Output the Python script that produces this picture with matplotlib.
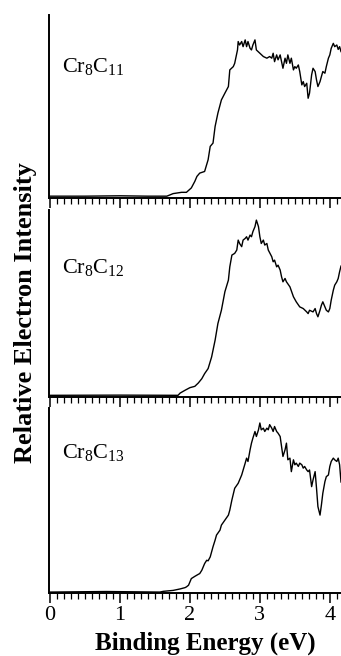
import matplotlib
matplotlib.use("Agg")
import matplotlib.pyplot as plt
from matplotlib.ticker import MultipleLocator

plt.rcParams['font.family'] = ['Liberation Serif', 'DejaVu Serif']
plt.rcParams['mathtext.fontset'] = 'custom'
plt.rcParams['mathtext.rm'] = 'Liberation Serif'
plt.rcParams['mathtext.it'] = 'Liberation Serif:italic'

# ---- data (binding energy eV, relative intensity) ----
labels = [r'$\mathrm{Cr}_8\mathrm{C}_{11}$', r'$\mathrm{Cr}_8\mathrm{C}_{12}$', r'$\mathrm{Cr}_8\mathrm{C}_{13}$']

e11 = [0, 0.5, 1.0, 1.4, 1.67, 1.76, 1.88, 1.95, 2.02, 2.07, 2.10, 2.14, 2.21, 2.26, 2.29, 2.33, 2.36, 2.40,
       2.45, 2.50, 2.55, 2.57, 2.62, 2.64, 2.68, 2.69, 2.71, 2.74, 2.76, 2.79, 2.81, 2.83, 2.86, 2.88, 2.90,
       2.93, 2.95, 3.00, 3.05, 3.10, 3.14, 3.17, 3.19, 3.21, 3.24, 3.26, 3.29, 3.31, 3.33, 3.36, 3.38, 3.40,
       3.43, 3.45, 3.48, 3.50, 3.52, 3.55, 3.57, 3.60, 3.62, 3.64, 3.67, 3.69, 3.71, 3.74, 3.76, 3.79, 3.81,
       3.83, 3.86, 3.88, 3.90, 3.93, 3.95, 3.98, 4.00, 4.02, 4.05, 4.07, 4.10, 4.12, 4.14, 4.16]
i11 = [0.01, 0.01, 0.012, 0.01, 0.01, 0.024, 0.031, 0.031, 0.055, 0.091, 0.118, 0.136, 0.145, 0.209, 0.282,
       0.30, 0.391, 0.464, 0.536, 0.573, 0.609, 0.70, 0.718, 0.736, 0.809, 0.855, 0.836, 0.855, 0.827, 0.864,
       0.827, 0.855, 0.818, 0.809, 0.836, 0.864, 0.809, 0.791, 0.773, 0.764, 0.773, 0.764, 0.791, 0.745, 0.782,
       0.755, 0.782, 0.745, 0.709, 0.764, 0.736, 0.782, 0.736, 0.764, 0.70, 0.718, 0.709, 0.727, 0.691, 0.618,
       0.636, 0.609, 0.627, 0.545, 0.573, 0.673, 0.709, 0.691, 0.645, 0.609, 0.636, 0.664, 0.691, 0.682, 0.718,
       0.764, 0.782, 0.818, 0.845, 0.827, 0.836, 0.812, 0.827, 0.80]

e12 = [0, 1.0, 1.83, 1.86, 1.93, 2.0, 2.07, 2.12, 2.17, 2.21, 2.26, 2.31, 2.36, 2.40, 2.45, 2.50, 2.55, 2.57,
       2.60, 2.64, 2.67, 2.69, 2.71, 2.74, 2.76, 2.79, 2.81, 2.83, 2.86, 2.88, 2.90, 2.93, 2.95, 2.98, 3.0,
       3.02, 3.05, 3.07, 3.10, 3.12, 3.17, 3.19, 3.21, 3.24, 3.26, 3.29, 3.31, 3.33, 3.36, 3.38, 3.43, 3.48,
       3.52, 3.57, 3.62, 3.67, 3.69, 3.71, 3.76, 3.79, 3.81, 3.83, 3.86, 3.88, 3.90, 3.93, 3.95, 3.98, 4.0,
       4.02, 4.05, 4.07, 4.10, 4.12, 4.14, 4.16]
i12 = [0.009, 0.01, 0.009, 0.021, 0.036, 0.05, 0.057, 0.075, 0.098, 0.125, 0.152, 0.214, 0.304, 0.393, 0.464,
       0.563, 0.625, 0.696, 0.759, 0.768, 0.786, 0.839, 0.821, 0.804, 0.839, 0.848, 0.857, 0.839, 0.866, 0.857,
       0.884, 0.911, 0.946, 0.911, 0.857, 0.821, 0.839, 0.8125, 0.821, 0.786, 0.75, 0.723, 0.732, 0.696, 0.705,
       0.679, 0.643, 0.616, 0.634, 0.616, 0.589, 0.536, 0.509, 0.482, 0.473, 0.455, 0.446, 0.464, 0.455, 0.473,
       0.446, 0.429, 0.464, 0.491, 0.509, 0.482, 0.464, 0.455, 0.473, 0.518, 0.571, 0.598, 0.616, 0.634, 0.67,
       0.70]

e13 = [0, 0.8, 1.57, 1.62, 1.76, 1.86, 1.93, 1.95, 1.98, 2.0, 2.02, 2.07, 2.12, 2.14, 2.17, 2.21, 2.24, 2.26,
       2.29, 2.33, 2.36, 2.38, 2.43, 2.45, 2.50, 2.55, 2.57, 2.60, 2.64, 2.69, 2.74, 2.79, 2.81, 2.83, 2.86,
       2.88, 2.90, 2.93, 2.95, 2.98, 3.0, 3.02, 3.05, 3.07, 3.10, 3.12, 3.14, 3.17, 3.19, 3.21, 3.24, 3.26,
       3.29, 3.31, 3.33, 3.36, 3.38, 3.40, 3.43, 3.45, 3.48, 3.50, 3.52, 3.55, 3.57, 3.60, 3.62, 3.64, 3.67,
       3.69, 3.71, 3.74, 3.76, 3.79, 3.81, 3.83, 3.86, 3.88, 3.90, 3.93, 3.95, 3.98, 4.0, 4.02, 4.05, 4.07,
       4.10, 4.12, 4.14, 4.16]
i13 = [0.005, 0.008, 0.005, 0.009, 0.014, 0.022, 0.029, 0.033, 0.042, 0.06, 0.078, 0.09, 0.101, 0.105, 0.123,
       0.159, 0.177, 0.174, 0.195, 0.25, 0.286, 0.313, 0.34, 0.367, 0.394, 0.421, 0.448, 0.503, 0.566, 0.593,
       0.638, 0.702, 0.729, 0.711, 0.774, 0.81, 0.837, 0.873, 0.846, 0.882, 0.919, 0.882, 0.891, 0.873, 0.891,
       0.882, 0.91, 0.891, 0.873, 0.9, 0.873, 0.864, 0.846, 0.792, 0.738, 0.774, 0.81, 0.72, 0.729, 0.656,
       0.72, 0.693, 0.702, 0.684, 0.702, 0.693, 0.675, 0.684, 0.665, 0.656, 0.665, 0.575, 0.611, 0.656, 0.566,
       0.467, 0.421, 0.476, 0.539, 0.602, 0.629, 0.638, 0.684, 0.711, 0.729, 0.72, 0.711, 0.729, 0.693, 0.60]

xticks = [0, 1, 2, 3, 4]
xlabel = 'Binding Energy (eV)'
ylabel = 'Relative Electron Intensity'

series = [(e11, i11), (e12, i12), (e13, i13)]

W, H = 341, 656
fig = plt.figure(figsize=(W / 100, H / 100), dpi=100)

panels_px = [(15, 198), (210, 397), (408, 593)]  # top, bottom in pixels
label_y = [0.716, 0.695, 0.762]
left_px = 49

for k, ((top, bot), (ex, iy)) in enumerate(zip(panels_px, series)):
    ax = fig.add_axes([left_px / W, 1 - bot / H, (W - left_px) / W, (bot - top) / H])
    ax.plot(ex, iy, color='black', lw=1.0)
    ax.set_xlim(-0.015, 4.16)
    ax.set_ylim(0, 1)
    for s in ['top', 'right']:
        ax.spines[s].set_visible(False)
    for s in ['left', 'bottom']:
        ax.spines[s].set_linewidth(1.4)
    ax.set_yticks([])
    ax.set_xticks(xticks)
    ax.xaxis.set_minor_locator(MultipleLocator(0.1))
    ax.tick_params(axis='x', which='major', direction='out', length=7, width=1.1, labelsize=16, pad=2)
    ax.tick_params(axis='x', which='minor', direction='out', length=4, width=0.9)
    if k < 2:
        ax.tick_params(axis='x', which='both', labelbottom=False)
    ax.text(0.045, label_y[k], labels[k], transform=ax.transAxes, fontsize=16,
            ha='left', va='center')

fig.text(205 / W, 1 - 643 / H, xlabel, fontsize=18, fontweight='bold', ha='center', va='center')
fig.text(26 / W, 1 - 313 / H, ylabel, fontsize=19, fontweight='bold', ha='center', va='center',
         rotation=90)

fig.savefig('out.png', dpi=100)
